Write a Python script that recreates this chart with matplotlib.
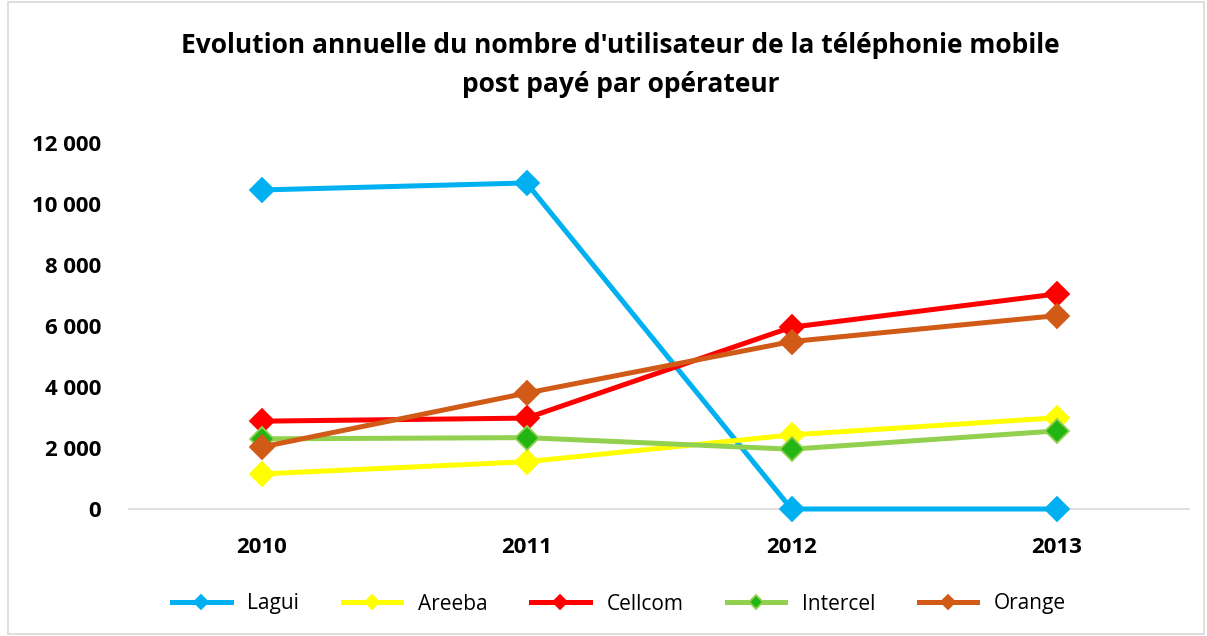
import matplotlib.pyplot as plt
from matplotlib.patches import Rectangle
from matplotlib.ticker import FuncFormatter

# données
annees = ["2010", "2011", "2012", "2013"]
lagui = [10460, 10690, 0, 0]
areeba = [1150, 1550, 2430, 2990]
cellcom = [2880, 2980, 5960, 7050]
intercel = [2300, 2340, 1960, 2560]
orange = [2030, 3800, 5490, 6340]

series = [
    ("Lagui", lagui, "#00b0f0", "#00b0f0", "#00b0f0"),
    ("Areeba", areeba, "#ffff00", "#ffff00", "#ffff00"),
    ("Cellcom", cellcom, "#ff0000", "#ff0000", "#ff0000"),
    ("Intercel", intercel, "#92d050", "#22b514", "#92d050"),
    ("Orange", orange, "#d05a16", "#d05a16", "#d05a16"),
]

plt.rcParams['font.family'] = ['Open Sans', 'DejaVu Sans']

fig = plt.figure(figsize=(12.07, 6.36), dpi=100)
ax = fig.add_axes([129 / 1207, 1 - 509 / 636, 1060 / 1207, 366 / 636])

x = range(len(annees))
for nom, vals, col, face, edge in series:
    ax.plot(x, vals, color=col, linewidth=3.6, marker='D', markersize=12,
            markerfacecolor=face, markeredgecolor=edge, markeredgewidth=1.3,
            label=nom, zorder=3, clip_on=False)

ax.set_xlim(-0.5, 3.5)
ax.set_ylim(0, 12000)
ax.set_yticks(range(0, 12001, 2000))
ax.yaxis.set_major_formatter(FuncFormatter(lambda v, p: f"{int(v):,}".replace(",", " ")))
ax.set_xticks(list(x))
ax.set_xticklabels(annees)
ax.tick_params(length=0, labelsize=16)
ax.tick_params(axis='y', pad=20)
ax.tick_params(axis='x', pad=20)
for lab in ax.get_xticklabels() + ax.get_yticklabels():
    lab.set_fontweight('bold')

for s in ['top', 'right', 'left']:
    ax.spines[s].set_visible(False)
ax.spines['bottom'].set_color('#d9d9d9')
ax.spines['bottom'].set_linewidth(1.2)
ax.spines['bottom'].set_zorder(1)

fig.text(0.514, 1 - 65 / 636,
         "Evolution annuelle du nombre d'utilisateur de la téléphonie mobile\npost payé par opérateur",
         ha='center', va='center', fontsize=19, fontweight='bold', linespacing=1.55)

fig.legend(loc='center', bbox_to_anchor=(0.513, 1 - 604 / 636), ncol=5, frameon=False,
           fontsize=15, handlelength=2.8, columnspacing=2.1, handletextpad=0.8,
           markerscale=0.6)

fig.patches.append(Rectangle((8 / 1207, 2 / 636), 1196 / 1207, 632 / 636, transform=fig.transFigure,
                             fill=False, edgecolor='#d9d9d9', linewidth=1.2))

fig.savefig("out.png", dpi=100)
